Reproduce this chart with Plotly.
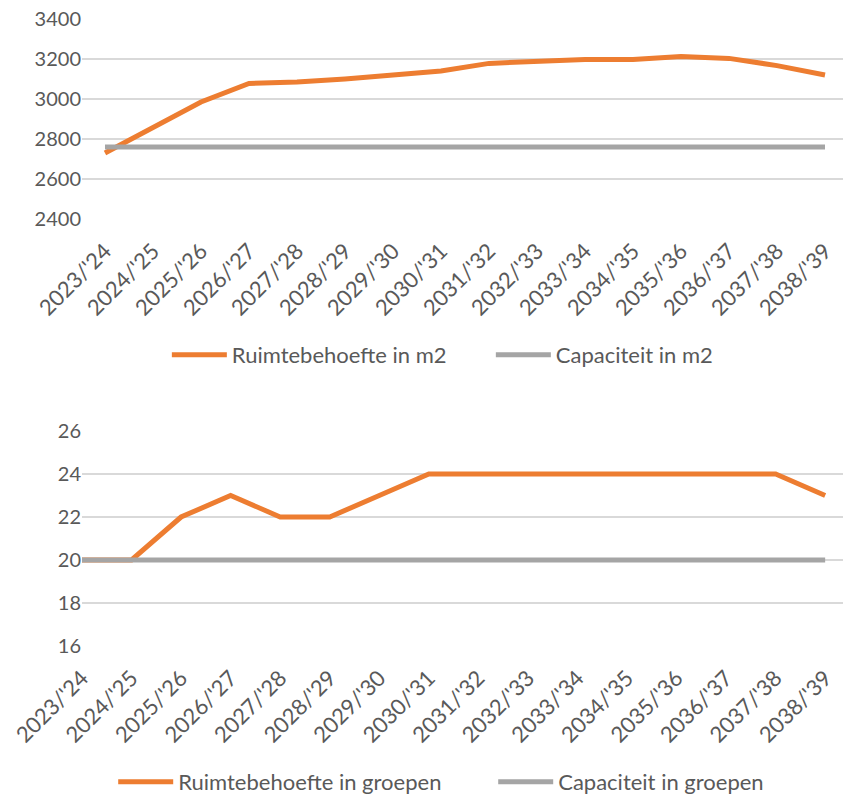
import plotly.graph_objects as go

# Schooljaren (categorieen)
jaren = ["2023/'24", "2024/'25", "2025/'26", "2026/'27", "2027/'28", "2028/'29",
         "2029/'30", "2030/'31", "2031/'32", "2032/'33", "2033/'34", "2034/'35",
         "2035/'36", "2036/'37", "2037/'38", "2038/'39"]

# Ruimte in m2
behoefte_m2 = [2730, 2855, 2985, 3078, 3085, 3100, 3118, 3140,
               3178, 3188, 3198, 3198, 3213, 3203, 3167, 3120]
capaciteit_m2 = [2760] * 16

# Ruimte in groepen
behoefte_groepen = [20, 20, 22, 23, 22, 22, 23, 24, 24, 24, 24, 24, 24, 24, 24, 23]
capaciteit_groepen = [20] * 16

ORANJE = "#ED7D31"
GRIJS = "#A5A5A5"
TEKST = "#595959"
FONT = "Lato"

fig = go.Figure()

fig.add_trace(go.Scatter(x=jaren, y=behoefte_m2, mode="lines", name="Ruimtebehoefte in m2",
                         line=dict(color=ORANJE, width=5), xaxis="x", yaxis="y", legend="legend"))
fig.add_trace(go.Scatter(x=jaren, y=capaciteit_m2, mode="lines", name="Capaciteit in m2",
                         line=dict(color=GRIJS, width=5), xaxis="x", yaxis="y", legend="legend"))
fig.add_trace(go.Scatter(x=jaren, y=behoefte_groepen, mode="lines", name="Ruimtebehoefte in groepen",
                         line=dict(color=ORANJE, width=5), xaxis="x2", yaxis="y2", legend="legend2"))
fig.add_trace(go.Scatter(x=jaren, y=capaciteit_groepen, mode="lines", name="Capaciteit in groepen",
                         line=dict(color=GRIJS, width=5), xaxis="x2", yaxis="y2", legend="legend2"))

W, H = 843, 796
as_kader = dict(showgrid=False, showline=False, zeroline=False, ticks="", automargin=False,
                tickangle=-45, tickfont=dict(family=FONT, size=22, color=TEKST),
                ticklabelstandoff=14, ticklabeloverflow="allow", type="category")
y_as = dict(showgrid=True, gridcolor="#D9D9D9", gridwidth=1.5, zeroline=False, automargin=False,
            showline=False, ticks="", ticklabeloverflow="allow",
            tickfont=dict(family=FONT, size=20, color=TEKST))

fig.update_layout(
    width=W, height=H,
    margin=dict(l=82, r=0, t=0, b=0, autoexpand=False),
    paper_bgcolor="white", plot_bgcolor="white",
    xaxis=dict(as_kader, domain=[0, 1], range=[-0.479, 15.375], anchor="y"),
    yaxis=dict(y_as, domain=[(H - 219) / H, (H - 19) / H], range=[2400, 3400], dtick=200, anchor="x"),
    xaxis2=dict(as_kader, domain=[0, 1], range=[0, 15.36], anchor="y2"),
    yaxis2=dict(y_as, domain=[(H - 646) / H, (H - 431) / H], range=[16, 26], dtick=2, anchor="x2"),
    legend=dict(orientation="h", x=0.1115, xanchor="left", y=(H - 355) / H, yanchor="middle",
                font=dict(family=FONT, size=22, color=TEKST), itemwidth=55,
                entrywidth=254, entrywidthmode="pixels", bgcolor="rgba(0,0,0,0)"),
    legend2=dict(orientation="h", x=0.041, xanchor="left", y=(H - 782) / H, yanchor="middle",
                 font=dict(family=FONT, size=22, color=TEKST), itemwidth=55,
                 entrywidth=310, entrywidthmode="pixels", bgcolor="rgba(0,0,0,0)"),
)

# body-marge van de pagina weghalen zodat de figuur precies het venster vult
fig.write_html("out.html", config={"displayModeBar": False},
               post_script="document.body.style.margin='0';")
